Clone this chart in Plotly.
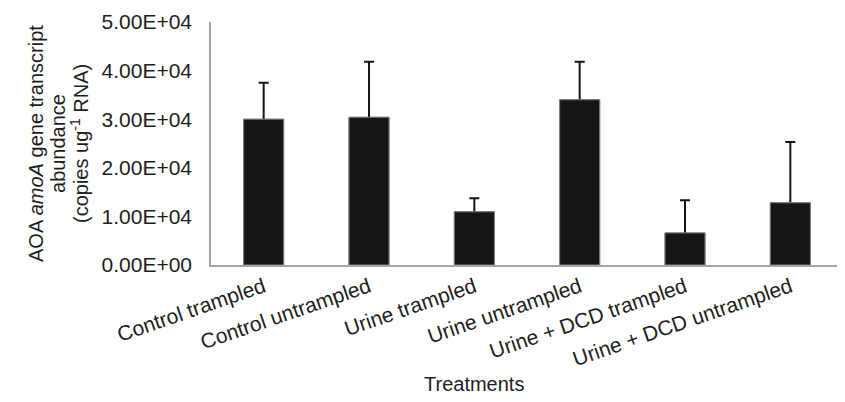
import plotly.graph_objects as go

categories = ["Control trampled", "Control untrampled", "Urine trampled",
              "Urine untrampled", "Urine + DCD trampled", "Urine + DCD untrampled"]
values = [30000, 30400, 10950, 34000, 6600, 12800]
errors = [7500, 11400, 2800, 7800, 6700, 12500]
y_tickvals = [0, 10000, 20000, 30000, 40000, 50000]
y_ticktext = ["0.00E+00", "1.00E+04", "2.00E+04", "3.00E+04", "4.00E+04", "5.00E+04"]
y_title_lines = ["AOA <i>amoA</i> gene transcript", "abundance",
                 "(copies ug<sup>-1</sup> RNA)"]

FONT = "Liberation Sans, Arial, sans-serif"
TXT = "#1e1e1e"

# the page body has an 8px margin, so the figure is sized/offset to fit 845x402
W, H = 837, 394
L, R, T, B = 203, 2, 12, 137
PW, PH = W - L - R, H - T - B


def px(xo):
    return (xo - 8 - L) / PW


def py(yo):
    return (H - B - (yo - 8)) / PH


bar_marker = dict(color="#151515", line=dict(color="#808080", width=1))

fig = go.Figure()
# bars with symmetric error bars
fig.add_trace(go.Bar(
    x=categories, y=values, marker=bar_marker, width=0.38,
    error_y=dict(type="data", array=errors, visible=True,
                 color="#151515", thickness=2, width=5),
))
# same bars drawn again on top, hiding the lower halves of the error bars
fig.add_trace(go.Bar(
    x=categories, y=values, marker=bar_marker, width=0.38, hoverinfo="skip",
))

annotations = [
    dict(text="Treatments", xref="paper", yref="paper",
         x=px(474), y=py(385), xanchor="center", yanchor="middle",
         showarrow=False, font=dict(size=20, color=TXT)),
]
for xo, line in zip([36, 58, 80], y_title_lines):
    annotations.append(dict(text=line, xref="paper", yref="paper",
                            x=px(xo), y=py(143), textangle=-90,
                            xanchor="center", yanchor="middle", showarrow=False,
                            font=dict(size=20, color=TXT)))

fig.update_layout(
    width=W, height=H,
    margin=dict(l=L, r=R, t=T, b=B),
    paper_bgcolor="white", plot_bgcolor="white",
    showlegend=False, barmode="overlay",
    font=dict(family=FONT, size=21, color=TXT),
    xaxis=dict(showline=True, linecolor="#a6a6a6", linewidth=1.5,
               showgrid=False, ticks="", tickangle=-19,
               tickfont=dict(size=21, color=TXT)),
    yaxis=dict(range=[0, 50000], tickvals=y_tickvals, ticktext=y_ticktext,
               showline=True, linecolor="#a6a6a6", linewidth=1.5,
               showgrid=False, zeroline=False, ticks="",
               ticklabelstandoff=13,
               tickfont=dict(size=21, color=TXT)),
    annotations=annotations,
)

fig.write_html("out.html")
